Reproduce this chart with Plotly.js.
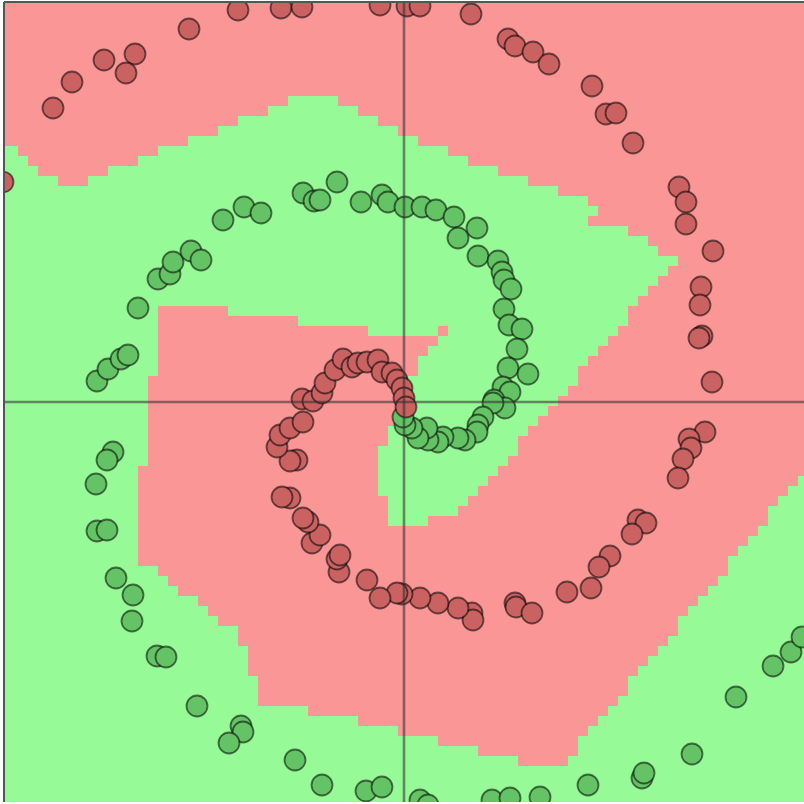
<!DOCTYPE html>
<html>
<head>
<meta charset="utf-8">
<script src="https://cdn.plot.ly/plotly-3.0.1.min.js"></script>
<style>html,body{margin:0;padding:0;background:#fff;}#chart{width:804px;height:804px;}</style>
</head>
<body>
<div id="chart"></div>
<script>
// ---- Decision regions: 81 x 81 grid, one entry per row (top to bottom).
// Each row: [class of first run, then the column indices where the class flips]
// class 0 = red region, class 1 = green region
const regionRows = [
  [0],[0],[0],[0],[0],[0],[0],[0],[0],[0],
  [0,29,34],
  [0,27,36],
  [0,24,38],
  [0,22,40],
  [0,19,42],
  [1,2,16,45],
  [1,3,14,47],
  [1,4,11,50],
  [1,6,9,53],
  [1,56],
  [1,59],
  [1,60],
  [1,59],
  [1,63],
  [1,65],
  [1,66],
  [1,68],
  [1,67],
  [1,66],
  [1,65],
  [1,64],
  [1,16,23,63],
  [1,16,30,63],
  [1,16,37,44,45,62],
  [1,16,44,61],
  [1,16,43,60],
  [1,16,42,59],
  [1,16,42,58],
  [1,15,41,58],
  [1,15,41,57],
  [1,15,41,56],
  [1,15,40,55],
  [1,15,40,54],
  [1,15,39,53],
  [1,15,39,52],
  [1,15,38,52],
  [1,15,38,51],
  [1,14,38,50],
  [1,14,38,49,80],
  [1,14,38,48,79],
  [1,14,39,47,78],
  [1,14,39,46,77],
  [1,14,39,43,77],
  [1,14,76],
  [1,14,75],
  [1,14,74],
  [1,14,73],
  [1,16,73],
  [1,17,72],
  [1,18,71],
  [1,20,70],
  [1,21,69],
  [1,22,68],
  [1,24,68],
  [1,24,67],
  [1,25,66],
  [1,25,65],
  [1,25,64],
  [1,26,63],
  [1,26,63],
  [1,26,62],
  [1,31,61],
  [1,36,60],
  [1,40,59],
  [1,44,58],
  [1,48,58],
  [1,52,57],
  [1],[1],[1],[1]
];

// ---- Points (data units)
const redX = [-3.32,-2.46,-2.04,-0.48,0.06,0.32,1.34,2.08,2.22,2.58,2.90,3.76,4.04,4.24,4.58,5.50,5.64,5.64,6.18,5.94,5.92,5.96,5.90,6.16,
  6.02,5.70,5.74,5.58,5.48,4.68,4.84,4.56,4.12,3.90,3.74,3.26,2.22,2.24,2.56,1.36,1.38,1.08,0.68,0.32,-0.04,-0.14,-0.48,-0.74,-1.30,-1.34,-1.28,
  -1.84,-1.68,-1.92,-2.02,-2.28,-2.44,-2.14,-2.28,-2.54,-2.48,-2.28,-2.02,-2.04,-1.82,-1.64,-1.58,-1.38,-1.22,-1.04,-0.92,-0.74,-0.52,-0.44,
  -0.24,-0.14,-0.04,0.00,0.04,-4.30,-5.38,-6.00,-5.56,-6.64,-7.02,-8.02];
const redY = [7.84,7.88,7.90,7.94,7.92,7.92,7.76,7.26,7.12,7.00,6.76,6.32,5.76,5.78,5.18,4.30,4.00,3.56,3.02,2.30,1.94,1.32,1.28,0.40,
  -0.60,-0.74,-0.92,-1.14,-1.52,-2.36,-2.42,-2.64,-3.08,-3.30,-3.72,-3.80,-4.02,-4.10,-4.22,-4.22,-4.36,-4.12,-4.02,-3.92,-3.84,-3.82,-3.92,-3.56,-3.40,-3.14,-3.06,
  -2.82,-2.66,-2.40,-2.32,-1.92,-1.90,-1.16,-1.18,-0.90,-0.66,-0.52,-0.40,0.06,0.02,0.18,0.38,0.64,0.86,0.70,0.78,0.80,0.84,0.60,
  0.58,0.44,0.28,0.08,-0.10,7.46,6.96,6.84,6.58,6.40,5.88,4.40];

const greenX = [-6.14,-5.92,-5.66,-5.52,-5.32,-4.92,-4.68,-4.62,-4.26,-4.06,-3.62,-3.20,-2.86,-2.02,-1.80,-1.68,-1.34,-0.86,-0.44,-0.32,
  0.02,0.36,0.64,1.00,1.46,1.08,1.48,1.88,1.96,2.00,2.14,2.00,2.10,2.36,2.26,2.08,2.48,1.98,2.12,1.80,2.02,1.78,1.58,1.48,1.46,1.22,1.08,
  0.78,0.68,0.48,0.46,0.28,0.16,0.02,-0.02,
  -5.82,-5.94,-6.16,-6.14,-5.94,-5.76,-5.42,-5.44,-4.94,-4.76,-4.14,-3.26,-3.22,-3.50,-2.18,-1.64,-0.76,-0.44,0.32,0.48,1.76,2.12,2.72,
  3.68,4.76,4.80,5.76,6.64,7.38,7.74,7.96];
const greenY = [0.42,0.66,0.86,0.94,1.88,2.46,2.56,2.80,3.02,2.84,3.64,3.90,3.78,4.18,4.02,4.04,4.40,4.00,4.14,4.00,
  3.90,3.90,3.84,3.70,3.48,3.28,2.92,2.82,2.60,2.44,2.26,1.86,1.54,1.46,1.06,0.68,0.56,0.30,0.20,0.04,-0.12,-0.02,-0.30,-0.46,-0.60,-0.76,-0.72,
  -0.70,-0.80,-0.76,-0.52,-0.72,-0.52,-0.46,-0.30,
  -1.00,-1.16,-1.64,-2.58,-2.56,-3.52,-3.86,-4.38,-5.08,-5.10,-6.08,-6.48,-6.60,-6.82,-7.16,-7.66,-7.78,-7.70,-7.96,-8.06,-7.96,-7.92,-7.90,
  -7.66,-7.52,-7.42,-7.04,-5.90,-5.28,-5.00,-4.70];

// ---- build grid
const N = regionRows.length;
function expandRow(spec) {
  const row = [];
  let cls = spec[0], t = 1;
  for (let k = 0; k < N; k++) {
    while (t < spec.length && spec[t] === k) { cls = 1 - cls; t++; }
    row.push(cls);
  }
  return row;
}
const cell = 16 / (N - 1);
const xs = [], ys = [], z = [];
for (let k = 0; k < N; k++) xs.push(-8 - 0.02 + cell * k);
for (let j = N - 1; j >= 0; j--) { ys.push(8 + 0.02 - cell * j); z.push(expandRow(regionRows[j])); }

const pointLine = {color: 'rgba(0,0,0,0.55)', width: 1.8};
const traces = [
  {type: 'heatmap', x: xs, y: ys, z: z, zmin: 0, zmax: 1, showscale: false, hoverinfo: 'skip',
   colorscale: [[0, 'rgb(250,150,150)'], [1, 'rgb(150,250,150)']], zsmooth: false},
  {type: 'scatter', mode: 'markers', x: greenX, y: greenY, hoverinfo: 'skip',
   marker: {size: 21, color: 'rgb(100,195,100)', line: pointLine}},
  {type: 'scatter', mode: 'markers', x: redX, y: redY, hoverinfo: 'skip',
   marker: {size: 21, color: 'rgb(203,98,98)', line: pointLine}}
];

const axisLine = {color: 'rgba(45,45,45,0.55)', width: 2.6};
const borderLine = {color: 'rgb(85,85,85)', width: 2};
const layout = {
  width: 804, height: 804,
  margin: {l: 4, r: 0, t: 2, b: 2, pad: 0},
  paper_bgcolor: '#ffffff', plot_bgcolor: '#ffffff',
  showlegend: false,
  xaxis: {range: [-8, 8], showgrid: false, zeroline: false, showticklabels: false, ticks: '', showline: false, fixedrange: true},
  yaxis: {range: [-8, 8], showgrid: false, zeroline: false, showticklabels: false, ticks: '', showline: false, fixedrange: true},
  shapes: [
    {type: 'line', xref: 'x', yref: 'paper', x0: 0, x1: 0, y0: 0, y1: 1, line: axisLine, layer: 'above'},
    {type: 'line', xref: 'paper', yref: 'y', x0: 0, x1: 1, y0: 0, y1: 0, line: axisLine, layer: 'above'},
    {type: 'line', xref: 'paper', yref: 'paper', x0: 0, x1: 0, y0: 0, y1: 1, line: borderLine, layer: 'above'},
    {type: 'line', xref: 'paper', yref: 'paper', x0: 0, x1: 1, y0: 1, y1: 1, line: borderLine, layer: 'above'}
  ]
};

Plotly.newPlot('chart', traces, layout, {staticPlot: true, displayModeBar: false});
</script>
</body>
</html>
